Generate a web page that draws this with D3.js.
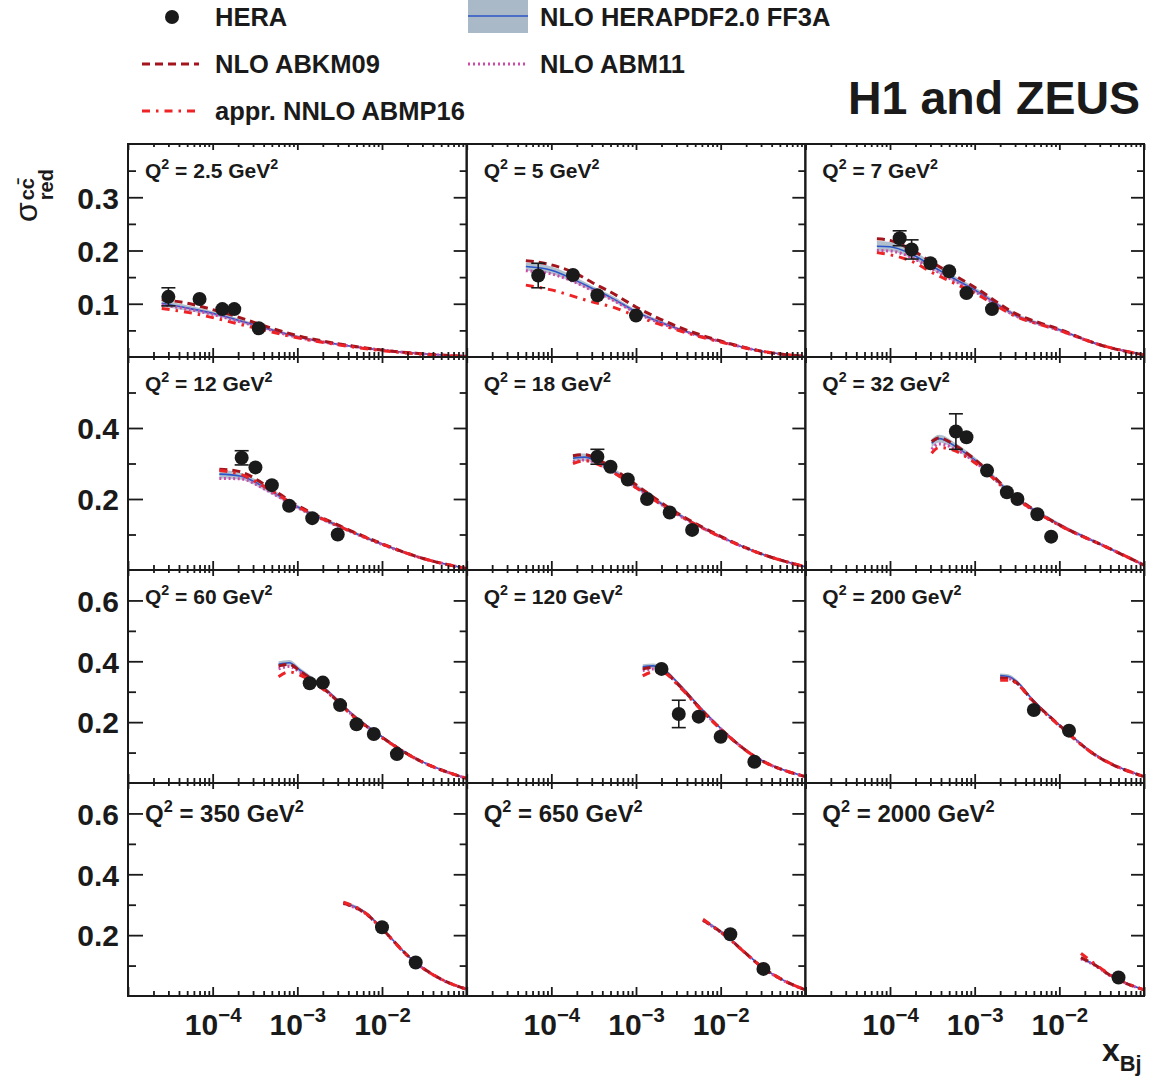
<!DOCTYPE html>
<html><head><meta charset="utf-8">
<script src="https://cdn.jsdelivr.net/npm/d3@7"></script>
<style>
body{margin:0;background:#fff}
svg{display:block}
text{font-family:"Liberation Sans",Arial,Helvetica,sans-serif;font-weight:bold;fill:#1a1a1a}
</style>
</head><body>
<svg id="c" width="1149" height="1081"></svg>
<script>
// ---------------- data ----------------
const q2Labels = ["2.5","5","7","12","18","32","60","120","200","350","650","2000"];
const rowYMax = [0.4, 0.6, 0.7, 0.7];
const rowYMajor = [[0.1,0.2,0.3],[0.2,0.4],[0.2,0.4,0.6],[0.2,0.4,0.6]];
const rowYMinor = [[0.05,0.15,0.25,0.35],[0.1,0.3,0.5],[0.1,0.3,0.5],[0.1,0.3,0.5]];
const xMajor = [1e-5,1e-4,1e-3,1e-2,1e-1];
const xLabelTicks = [1e-4,1e-3,1e-2];
const xLabelExp = ["\u22124","\u22123","\u22122"];

const dataX = [
 [3e-5,7e-5,1.3e-4,1.8e-4,3.5e-4],
 [7e-5,1.8e-4,3.5e-4,1e-3],
 [1.3e-4,1.8e-4,3e-4,5e-4,8e-4,1.6e-3],
 [2.2e-4,3.2e-4,5e-4,8e-4,1.5e-3,3e-3],
 [3.5e-4,5e-4,8e-4,1.35e-3,2.5e-3,4.6e-3],
 [6e-4,8e-4,1.4e-3,2.4e-3,3.2e-3,5.5e-3,8e-3],
 [1.4e-3,2e-3,3.2e-3,5e-3,8e-3,1.5e-2],
 [2e-3,3.2e-3,5.5e-3,1e-2,2.5e-2],
 [5e-3,1.3e-2],
 [1e-2,2.5e-2],
 [1.3e-2,3.2e-2],
 [5e-2]
];
const dataY = [
 [0.113,0.109,0.090,0.090,0.054],
 [0.153,0.154,0.116,0.078],
 [0.223,0.202,0.176,0.161,0.120,0.090],
 [0.316,0.289,0.239,0.181,0.146,0.100],
 [0.319,0.291,0.255,0.200,0.162,0.113],
 [0.390,0.374,0.280,0.219,0.200,0.157,0.094],
 [0.328,0.330,0.256,0.193,0.161,0.095],
 [0.375,0.227,0.218,0.152,0.070],
 [0.240,0.172],
 [0.226,0.110],
 [0.203,0.089],
 [0.061]
];
const dataErr = [
 [0.017,0.010,0.008,0.008,0.006],
 [0.023,0.013,0.010,0.008],
 [0.014,0.018,0.010,0.010,0.008,0.007],
 [0.020,0.015,0.012,0.010,0.009,0.008],
 [0.021,0.015,0.013,0.011,0.010,0.010],
 [0.050,0.015,0.015,0.012,0.012,0.012,0.010],
 [0.020,0.020,0.015,0.013,0.012,0.010],
 [0.020,0.045,0.018,0.012,0.010],
 [0.020,0.015],
 [0.020,0.012],
 [0.020,0.010],
 [0.010]
];

const theoryX = [
 [2.5e-5,5e-5,1e-4,2e-4,3.5e-4,1e-3,3e-3,1e-2,3e-2,1e-1],
 [5e-5,1e-4,2e-4,3.1e-4,5e-4,1e-3,3e-3,1e-2,3e-2,1e-1],
 [7e-5,1e-4,1.85e-4,3.2e-4,5e-4,1e-3,3e-3,1e-2,3e-2,1e-1],
 [1.2e-4,2.1e-4,4.3e-4,1e-3,3.2e-3,1e-2,3e-2,1e-1],
 [1.8e-4,2.5e-4,3.5e-4,6e-4,1e-3,3e-3,1e-2,2.9e-2,1e-1],
 [3.1e-4,3.8e-4,6e-4,1e-3,3.1e-3,1e-2,3.5e-2,1e-1],
 [6e-4,8e-4,1.07e-3,2.2e-3,4.6e-3,1e-2,2.5e-2,1e-1],
 [1.2e-3,1.6e-3,2e-3,3.3e-3,5.6e-3,1e-2,2.4e-2,1e-1],
 [2e-3,2.5e-3,3.1e-3,4.8e-3,1e-2,2.5e-2,1e-1],
 [3.5e-3,6.5e-3,1e-2,2.3e-2,4.8e-2,1e-1],
 [6.2e-3,1.2e-2,2e-2,3e-2,5e-2,1e-1],
 [1.8e-2,2.5e-2,4.2e-2,1e-1]
];
const herapdf = [
 [0.101,0.092,0.082,0.069,0.058,0.038,0.024,0.013,0.006,0.001],
 [0.170,0.163,0.143,0.128,0.112,0.085,0.054,0.029,0.011,0.001],
 [0.208,0.207,0.192,0.170,0.152,0.126,0.079,0.051,0.023,0.004],
 [0.270,0.265,0.230,0.178,0.122,0.073,0.033,0.004],
 [0.315,0.318,0.305,0.272,0.235,0.160,0.094,0.047,0.009],
 [0.357,0.370,0.347,0.310,0.203,0.128,0.066,0.014],
 [0.390,0.395,0.371,0.306,0.223,0.152,0.081,0.015],
 [0.382,0.385,0.377,0.322,0.251,0.180,0.092,0.021],
 [0.353,0.350,0.335,0.275,0.191,0.098,0.021],
 [0.307,0.272,0.222,0.118,0.058,0.022],
 [0.250,0.195,0.140,0.098,0.058,0.020],
 [0.124,0.105,0.064,0.020]
];
const herapdfErr = [
 [0.006,0.005,0.004,0.004,0.003,0.003,0.002,0.002,0.001,0.001],
 [0.008,0.007,0.006,0.005,0.005,0.004,0.003,0.002,0.001,0.001],
 [0.010,0.009,0.008,0.007,0.006,0.005,0.004,0.003,0.002,0.001],
 [0.012,0.010,0.008,0.006,0.005,0.004,0.003,0.002],
 [0.012,0.010,0.009,0.008,0.007,0.005,0.004,0.003,0.002],
 [0.012,0.011,0.010,0.008,0.006,0.005,0.004,0.002],
 [0.010,0.009,0.008,0.006,0.005,0.004,0.003,0.002],
 [0.008,0.008,0.007,0.006,0.005,0.004,0.003,0.002],
 [0.007,0.007,0.006,0.005,0.004,0.003,0.002],
 [0.006,0.005,0.004,0.003,0.002,0.002],
 [0.006,0.005,0.004,0.003,0.002,0.002],
 [0.005,0.004,0.003,0.002]
];
const abkm09 = [
 [0.108,0.101,0.089,0.075,0.062,0.040,0.025,0.013,0.006,0.001],
 [0.181,0.173,0.156,0.139,0.122,0.094,0.058,0.030,0.011,0.001],
 [0.222,0.219,0.200,0.177,0.159,0.131,0.082,0.052,0.023,0.004],
 [0.284,0.277,0.238,0.182,0.124,0.074,0.033,0.004],
 [0.322,0.325,0.312,0.278,0.240,0.162,0.095,0.047,0.009],
 [0.362,0.372,0.350,0.312,0.205,0.127,0.066,0.014],
 [0.385,0.390,0.368,0.303,0.220,0.150,0.080,0.015],
 [0.375,0.380,0.372,0.318,0.248,0.178,0.091,0.021],
 [0.345,0.343,0.330,0.272,0.190,0.097,0.021],
 [0.305,0.270,0.221,0.118,0.058,0.022],
 [0.249,0.194,0.139,0.097,0.058,0.020],
 [0.126,0.106,0.064,0.020]
];
const abm11 = [
 [0.098,0.090,0.080,0.067,0.057,0.037,0.024,0.013,0.006,0.001],
 [0.162,0.156,0.139,0.124,0.109,0.083,0.053,0.029,0.011,0.001],
 [0.200,0.199,0.186,0.165,0.148,0.123,0.078,0.050,0.023,0.004],
 [0.258,0.257,0.225,0.176,0.121,0.072,0.033,0.004],
 [0.305,0.310,0.300,0.268,0.232,0.158,0.093,0.047,0.009],
 [0.340,0.355,0.340,0.305,0.201,0.126,0.066,0.014],
 [0.375,0.383,0.365,0.303,0.220,0.150,0.080,0.015],
 [0.370,0.375,0.370,0.318,0.248,0.178,0.091,0.021],
 [0.345,0.343,0.330,0.272,0.189,0.097,0.021],
 [0.304,0.269,0.220,0.117,0.057,0.022],
 [0.248,0.193,0.139,0.097,0.057,0.020],
 [0.122,0.104,0.063,0.020]
];
const abmp16 = [
 [0.091,0.084,0.074,0.062,0.053,0.036,0.023,0.012,0.005,0.001],
 [0.135,0.126,0.112,0.103,0.095,0.077,0.051,0.028,0.011,0.001],
 [0.196,0.192,0.179,0.158,0.143,0.120,0.077,0.050,0.023,0.004],
 [0.280,0.270,0.232,0.179,0.122,0.073,0.033,0.004],
 [0.300,0.308,0.298,0.268,0.232,0.158,0.093,0.047,0.009],
 [0.329,0.345,0.335,0.302,0.201,0.126,0.066,0.014],
 [0.349,0.365,0.355,0.300,0.218,0.149,0.080,0.015],
 [0.352,0.365,0.365,0.315,0.246,0.177,0.091,0.021],
 [0.338,0.338,0.328,0.270,0.188,0.097,0.021],
 [0.308,0.271,0.220,0.117,0.058,0.022],
 [0.252,0.193,0.139,0.097,0.058,0.020],
 [0.140,0.110,0.066,0.020]
];

// ---------------- layout / style ----------------
const FONT_TICK = 30, FONT_Q = 21, FONT_Q_BOTTOM = 24;
const colLeft = 128, colW = 338.67, rowTop = 144, rowH = 213;
const C_BAND = "#a9b9c8", C_HERA = "#2b55c9", C_ABKM = "#a3141c", C_ABMP = "#ee2326", C_ABM11 = "#cc4aa8", C_TXT = "#1a1a1a";

const svg = d3.select("#c");
const minorX = [];
for (let e = -5; e < -1; e++) for (let k = 2; k <= 9; k++) minorX.push(k * Math.pow(10, e));

function richText(sel, parts, size) {
  parts.forEach(p => {
    if (p.sup) {
      sel.append("tspan").attr("font-size", size * 0.68).attr("dy", -size * 0.42).text(p.t);
    } else if (p.sub) {
      sel.append("tspan").attr("font-size", size * 0.68).attr("dy", size * 0.3).text(p.t);
    } else {
      sel.append("tspan").attr("font-size", size).attr("dy", p.back ? p.back : 0).text(p.t);
    }
  });
}

for (let i = 0; i < 12; i++) {
  const col = i % 3, row = Math.floor(i / 3);
  const x0 = colLeft + col * colW, y0 = rowTop + row * rowH;
  const x = d3.scaleLog().domain([1e-5, 0.1]).range([x0, x0 + colW]);
  const y = d3.scaleLinear().domain([0, rowYMax[row]]).range([y0 + rowH, y0]);
  const g = svg.append("g");
  const clipId = "clip" + i;
  g.append("clipPath").attr("id", clipId).append("rect")
    .attr("x", x0).attr("y", y0).attr("width", colW).attr("height", rowH);
  const pg = g.append("g").attr("clip-path", `url(#${clipId})`);

  const tx = theoryX[i];
  const band = tx.map((v, j) => ({x: v, lo: herapdf[i][j] - herapdfErr[i][j], hi: herapdf[i][j] + herapdfErr[i][j]}));
  pg.append("path").datum(band)
    .attr("d", d3.area().x(d => x(d.x)).y0(d => y(d.lo)).y1(d => y(d.hi)).curve(d3.curveMonotoneX))
    .attr("fill", C_BAND).attr("opacity", 0.9);
  const line = d3.line().x(d => x(d[0])).y(d => y(d[1])).curve(d3.curveMonotoneX);
  const series = (arr) => tx.map((v, j) => [v, arr[i][j]]);
  pg.append("path").datum(series(herapdf)).attr("d", line)
    .attr("fill", "none").attr("stroke", C_HERA).attr("stroke-width", 1.6);
  pg.append("path").datum(series(abm11)).attr("d", line)
    .attr("fill", "none").attr("stroke", C_ABM11).attr("stroke-width", 3).attr("stroke-dasharray", "2,2.6");
  pg.append("path").datum(series(abkm09)).attr("d", line)
    .attr("fill", "none").attr("stroke", C_ABKM).attr("stroke-width", 3).attr("stroke-dasharray", "8,5");
  pg.append("path").datum(series(abmp16)).attr("d", line)
    .attr("fill", "none").attr("stroke", C_ABMP).attr("stroke-width", 3).attr("stroke-dasharray", "8,6,2.5,6");

  // data points
  const R = 7;
  const pts = dataX[i].map((v, j) => ({x: v, y: dataY[i][j], e: dataErr[i][j]}));
  pts.forEach(p => {
    const cx = x(p.x), cy = y(p.y);
    const eh = Math.abs(y(p.y + p.e) - cy);
    if (eh > R) {
      const ylo = y(p.y - p.e), yhi = y(p.y + p.e);
      g.append("line").attr("x1", cx).attr("x2", cx).attr("y1", ylo).attr("y2", yhi).attr("stroke", C_TXT).attr("stroke-width", 1.6);
      [ylo, yhi].forEach(yy => g.append("line").attr("x1", cx - 7).attr("x2", cx + 7).attr("y1", yy).attr("y2", yy).attr("stroke", C_TXT).attr("stroke-width", 1.6));
    }
    g.append("circle").attr("cx", cx).attr("cy", cy).attr("r", R).attr("fill", C_TXT);
  });

  // axes (ticks only)
  const axG = g.append("g").attr("class", "ax");
  axG.append("g").attr("transform", `translate(0,${y0 + rowH})`)
    .call(d3.axisTop(x).tickValues(xMajor).tickSize(9).tickSizeOuter(0).tickFormat(""));
  axG.append("g").attr("transform", `translate(0,${y0 + rowH})`)
    .call(d3.axisTop(x).tickValues(minorX).tickSize(5).tickSizeOuter(0).tickFormat(""));
  axG.append("g").attr("transform", `translate(0,${y0})`)
    .call(d3.axisBottom(x).tickValues(xMajor).tickSize(6).tickSizeOuter(0).tickFormat(""));
  axG.append("g").attr("transform", `translate(0,${y0})`)
    .call(d3.axisBottom(x).tickValues(minorX).tickSize(3).tickSizeOuter(0).tickFormat(""));
  if (col === 0) {
    axG.append("g").attr("transform", `translate(${x0},0)`)
      .call(d3.axisRight(y).tickValues(rowYMajor[row]).tickSize(15).tickSizeOuter(0).tickFormat(""));
    axG.append("g").attr("transform", `translate(${x0},0)`)
      .call(d3.axisRight(y).tickValues(rowYMinor[row]).tickSize(8).tickSizeOuter(0).tickFormat(""));
    const lab = g.append("g").attr("transform", `translate(${x0 - 9},0)`)
      .call(d3.axisLeft(y).tickValues(rowYMajor[row]).tickSize(0).tickFormat(d3.format(".1f")));
    lab.select(".domain").remove();
    lab.selectAll("text").attr("font-size", FONT_TICK).attr("font-family", null).attr("fill", C_TXT)
      .attr("dy", "0.36em").attr("x", 0);
  }
  axG.append("g").attr("transform", `translate(${x0 + colW},0)`)
    .call(d3.axisLeft(y).tickValues(rowYMajor[row]).tickSize(13).tickSizeOuter(0).tickFormat(""));
  axG.append("g").attr("transform", `translate(${x0 + colW},0)`)
    .call(d3.axisLeft(y).tickValues(rowYMinor[row]).tickSize(7).tickSizeOuter(0).tickFormat(""));
  axG.selectAll(".domain").remove();
  axG.selectAll("line").attr("stroke", C_TXT).attr("stroke-width", 1.8);

  // frame
  g.append("rect").attr("x", x0).attr("y", y0).attr("width", colW).attr("height", rowH)
    .attr("fill", "none").attr("stroke", C_TXT).attr("stroke-width", 2);

  // Q2 label
  const fs = row === 3 ? FONT_Q_BOTTOM : FONT_Q;
  const qt = g.append("text").attr("x", x0 + 17).attr("y", y0 + (row === 3 ? 39 : 34));
  richText(qt, [{t: "Q"}, {sup: true, t: "2"}, {t: " = " + q2Labels[i] + " GeV", back: fs * 0.42}, {sup: true, t: "2"}], fs);

  // x tick labels on bottom row
  if (row === 3) {
    const xl = g.append("g").attr("transform", `translate(0,${y0 + rowH})`)
      .call(d3.axisBottom(x).tickValues(xLabelTicks).tickSize(0).tickFormat(""));
    xl.select(".domain").remove();
    xl.selectAll(".tick").each(function(d, j) {
      const t = d3.select(this).append("text").attr("y", 39).attr("text-anchor", "middle").attr("fill", C_TXT);
      richText(t, [{t: "10"}, {sup: true, t: xLabelExp[j]}], 30);
    });
  }
}

// y axis title
const yt = svg.append("g").attr("transform", "translate(37,222) rotate(-90)");
const sig = yt.append("text").attr("x", 0).attr("y", 0).attr("font-size", 32).style("font-weight", "normal").text("\u03c3");
const sw = sig.node().getComputedTextLength();
yt.append("text").attr("x", sw + 2).attr("y", -3).attr("font-size", 20).text("cc\u0304");
yt.append("text").attr("x", sw + 2).attr("y", 16).attr("font-size", 20).text("red");

// x axis title
const xt = svg.append("text").attr("x", 1102).attr("y", 1061);
richText(xt, [{t: "x"}, {sub: true, t: "Bj"}], 32);

// legend
const lg = svg.append("g");
lg.append("circle").attr("cx", 172).attr("cy", 17).attr("r", 7).attr("fill", C_TXT);
lg.append("text").attr("x", 215).attr("y", 26).attr("font-size", 25.5).text("HERA");
lg.append("line").attr("x1", 142).attr("x2", 199).attr("y1", 64).attr("y2", 64)
  .attr("stroke", C_ABKM).attr("stroke-width", 3).attr("stroke-dasharray", "8,5");
lg.append("text").attr("x", 215).attr("y", 73).attr("font-size", 25.5).text("NLO ABKM09");
lg.append("line").attr("x1", 142).attr("x2", 199).attr("y1", 111).attr("y2", 111)
  .attr("stroke", C_ABMP).attr("stroke-width", 3).attr("stroke-dasharray", "8,6,2.5,6");
lg.append("text").attr("x", 215).attr("y", 120).attr("font-size", 25.5).text("appr. NNLO ABMP16");
lg.append("rect").attr("x", 468).attr("y", 0).attr("width", 60).attr("height", 33).attr("fill", C_BAND);
lg.append("line").attr("x1", 468).attr("x2", 528).attr("y1", 16).attr("y2", 16).attr("stroke", C_HERA).attr("stroke-width", 1.6);
lg.append("text").attr("x", 540).attr("y", 26).attr("font-size", 25.5).text("NLO HERAPDF2.0 FF3A");
lg.append("line").attr("x1", 468).attr("x2", 528).attr("y1", 64).attr("y2", 64)
  .attr("stroke", C_ABM11).attr("stroke-width", 3).attr("stroke-dasharray", "2,3");
lg.append("text").attr("x", 540).attr("y", 73).attr("font-size", 25.5).text("NLO ABM11");
svg.append("text").attr("x", 1140).attr("y", 114).attr("text-anchor", "end").attr("font-size", 46.5).text("H1 and ZEUS");
</script>
</body></html>
